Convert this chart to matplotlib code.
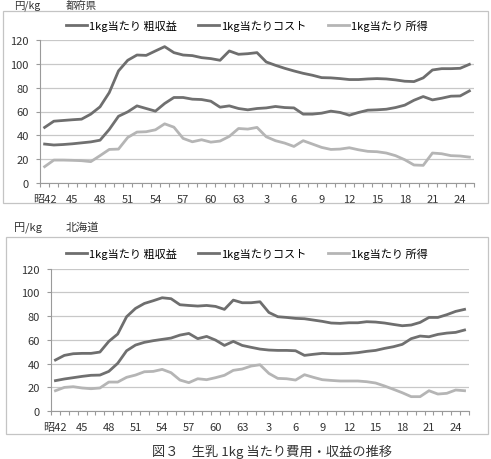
import matplotlib
matplotlib.use('Agg')
import matplotlib.pyplot as plt
from matplotlib.patches import Rectangle

plt.rcParams['font.family'] = ['Noto Sans CJK JP', 'DejaVu Sans']

## x axis: 昭42 (1967) .. 平成25 (2013), 47 years
tick_pos = [0, 3, 6, 9, 12, 15, 18, 21, 24, 27, 30, 33, 36, 39, 42, 45]
tick_labels = ['昭42', '45', '48', '51', '54', '57', '60', '63', '3', '6', '9',
               '12', '15', '18', '21', '24']

## 都府県 (yen / kg)
fuken_revenue = [46.7, 51.9, 52.5, 53.1, 53.6, 57.8, 63.9, 75.8, 93.9, 102.8,
                 107.2, 106.9, 110.6, 114.2, 109.2, 107.2, 106.7, 105.0, 104.2, 102.8,
                 110.6, 107.8, 108.3, 109.2, 101.4, 98.6, 96.1, 93.9, 91.9, 90.3,
                 88.3, 88.1, 87.5, 86.7, 86.7, 87.2, 87.5, 87.2, 86.4, 85.3,
                 85.0, 88.1, 94.7, 95.8, 95.8, 96.1, 99.4]
fuken_cost = [32.8, 32.0, 32.4, 33.0, 33.8, 34.6, 36.0, 45.0, 56.0, 59.7,
              64.7, 62.5, 60.3, 66.7, 71.7, 71.7, 70.3, 70.0, 68.6, 63.6,
              64.7, 62.5, 61.4, 62.5, 63.0, 64.2, 63.3, 63.0, 57.8, 57.8,
              58.6, 60.3, 59.2, 56.9, 59.2, 61.1, 61.4, 61.9, 63.3, 65.3,
              69.4, 72.5, 69.7, 71.1, 72.8, 73.0, 77.2]
fuken_income = [13.9, 19.4, 19.4, 19.2, 18.9, 18.1, 23.1, 28.3, 28.6, 38.3,
                42.8, 43.1, 44.7, 49.7, 46.9, 37.5, 34.7, 36.4, 34.4, 35.3,
                39.2, 45.8, 45.3, 46.7, 38.9, 35.6, 33.6, 30.8, 35.6, 32.8,
                30.0, 28.3, 28.6, 29.7, 28.0, 26.7, 26.4, 25.3, 23.1, 19.7,
                15.3, 15.0, 25.3, 24.7, 23.1, 22.8, 21.9]

## 北海道 (yen / kg)
hokkaido_revenue = [43.0, 46.9, 48.3, 48.6, 48.6, 49.7, 58.7, 64.9, 79.5, 86.5,
                    90.7, 93.0, 95.5, 94.7, 89.6, 89.0, 88.5, 89.0, 88.2, 85.7,
                    93.5, 91.3, 91.3, 92.1, 83.1, 79.5, 78.9, 78.1, 77.8, 76.7,
                    75.6, 74.2, 73.9, 74.4, 74.4, 75.3, 75.0, 74.2, 73.0, 71.9,
                    72.5, 74.7, 78.9, 78.9, 81.2, 84.0, 85.7]
hokkaido_cost = [25.6, 27.0, 28.1, 29.2, 30.1, 30.3, 33.4, 40.2, 50.8, 55.6,
                 57.9, 59.3, 60.4, 61.5, 64.0, 65.4, 61.0, 62.9, 59.8, 55.3,
                 58.7, 55.3, 53.7, 52.2, 51.4, 51.1, 51.1, 50.8, 46.9, 47.8,
                 48.6, 48.3, 48.3, 48.6, 49.2, 50.3, 51.1, 52.8, 54.2, 56.2,
                 61.0, 63.2, 62.6, 64.6, 65.7, 66.3, 68.3]
hokkaido_income = [17.1, 19.9, 20.5, 19.4, 18.8, 19.4, 24.4, 24.4, 28.4, 30.3,
                   33.1, 33.4, 35.1, 32.3, 26.1, 23.9, 27.2, 26.4, 28.1, 30.1,
                   34.3, 35.4, 37.9, 39.0, 31.7, 27.5, 27.2, 26.1, 30.6, 28.4,
                   26.4, 25.8, 25.3, 25.3, 25.3, 24.7, 23.6, 21.1, 18.3, 15.4,
                   12.1, 12.1, 17.1, 14.3, 14.9, 17.7, 17.1]

series_names = ['1kg当たり 粗収益', '1kg当たりコスト', '1kg当たり 所得']
colors = ['#6e6e6e', '#707070', '#b5b5b5']

W, H = 491, 460
fig = plt.figure(figsize=(W / 100, H / 100), dpi=100)


def px_box(x0, y0, x1, y1):
    # pixel box (top-left origin) -> figure fraction
    return [x0 / W, 1 - y1 / H, (x1 - x0) / W, (y1 - y0) / H]


def draw_panel(rect, frame, legend_y, data):
    fig.patches.append(Rectangle((frame[0] / W, 1 - frame[3] / H),
                                 (frame[2] - frame[0]) / W, (frame[3] - frame[1]) / H,
                                 transform=fig.transFigure, fill=False,
                                 edgecolor='#c4c4c4', linewidth=0.9))
    ax = fig.add_axes(px_box(*rect))
    xs = list(range(len(data[0])))
    for vals, name, c in zip(data, series_names, colors):
        ax.plot(xs, vals, color=c, linewidth=2.0, label=name)
    ax.set_xlim(-0.5, len(xs) - 0.5)
    ax.set_ylim(0, 120)
    ax.set_yticks(range(0, 121, 20))
    ax.yaxis.grid(True, color='#c8c8c8', linewidth=0.9)
    ax.set_axisbelow(True)
    ax.set_xticks(tick_pos)
    ax.set_xticklabels(tick_labels)
    ax.set_xticks([i - 0.5 for i in range(len(xs) + 1)], minor=True)
    ax.tick_params(axis='x', which='major', length=0, pad=8, labelsize=8, colors='#333333')
    ax.tick_params(axis='x', which='minor', length=3, color='#9a9a9a', width=0.8)
    ax.tick_params(axis='y', length=3, color='#9a9a9a', width=0.8, labelsize=8,
                   labelcolor='#333333', pad=5)
    for s in ['top', 'right']:
        ax.spines[s].set_visible(False)
    for s in ['left', 'bottom']:
        ax.spines[s].set_color('#9a9a9a')
        ax.spines[s].set_linewidth(0.8)
    fig.legend(*ax.get_legend_handles_labels(), loc='center',
               bbox_to_anchor=(247 / W, 1 - legend_y / H), ncol=3, frameon=False,
               fontsize=8, handlelength=1.9, columnspacing=1.9, handletextpad=0.2)
    return ax


draw_panel((40, 40.7, 474, 184.3), (3, 12, 488, 204), 26,
           [fuken_revenue, fuken_cost, fuken_income])
draw_panel((51, 269.7, 469, 412), (6, 238, 488, 435), 254,
           [hokkaido_revenue, hokkaido_cost, hokkaido_income])

fig.text(14 / W, 1 - 5.5 / H, '円/kg', fontsize=7.5, va='center', color='#333333')
fig.text(66 / W, 1 - 5.5 / H, '都府県', fontsize=7.5, va='center', color='#333333')
fig.text(14 / W, 1 - 228 / H, '円/kg', fontsize=8, va='center', color='#333333')
fig.text(66 / W, 1 - 228 / H, '北海道', fontsize=8, va='center', color='#333333')
fig.text(272 / W, 1 - 452 / H, '図３　生乳 1kg 当たり費用・収益の推移', fontsize=9.5,
         ha='center', va='center', color='#333333')

fig.savefig('out.png', dpi=100)
